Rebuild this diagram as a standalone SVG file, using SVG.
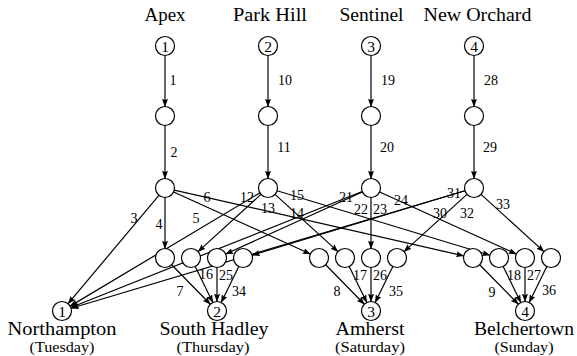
<svg xmlns="http://www.w3.org/2000/svg" width="577" height="356" viewBox="0 0 577 356" font-family="'Liberation Serif', 'DejaVu Serif', serif">
  <defs>
    <marker id="arr" viewBox="0 0 8 6" refX="7.6" refY="3" markerWidth="8" markerHeight="6" markerUnits="userSpaceOnUse" orient="auto">
      <path d="M0,0 L8,3 L0,6 L1.2,3 z" fill="#000"/>
    </marker>
  </defs>
  <style>
    circle { fill: #fff; stroke: #000; stroke-width: 1.2; }
    line { stroke: #000; stroke-width: 1.2; marker-end: url(#arr); }
    text { font-family: 'Liberation Serif', 'DejaVu Serif', serif; fill: #000; text-anchor: middle; }
    .town { font-size: 18.4px; }
    .day { font-size: 14px; }
    .num { font-size: 15.5px; }
    .lbl { font-size: 14px; }
  </style>
  <rect width="577" height="356" fill="#fff"/>

  <!-- connectors -->
  <g id="connectors">
    <!-- source chains -->
    <g id="e1"><line x1="165" y1="55.5" x2="165" y2="106.5"/><text class="lbl" x="173" y="85">1</text></g>
    <g id="e10"><line x1="268" y1="55.5" x2="268" y2="106.5"/><text class="lbl" x="285" y="85">10</text></g>
    <g id="e19"><line x1="371" y1="55.5" x2="371" y2="106.5"/><text class="lbl" x="388" y="85">19</text></g>
    <g id="e28"><line x1="474" y1="55.5" x2="474" y2="106.5"/><text class="lbl" x="491" y="85">28</text></g>
    <g id="e2"><line x1="165" y1="125.5" x2="165" y2="178.5"/><text class="lbl" x="174" y="157">2</text></g>
    <g id="e11"><line x1="268" y1="125.5" x2="268" y2="178.5"/><text class="lbl" x="284" y="152">11</text></g>
    <g id="e20"><line x1="371" y1="125.5" x2="371" y2="178.5"/><text class="lbl" x="387" y="152">20</text></g>
    <g id="e29"><line x1="474" y1="125.5" x2="474" y2="178.5"/><text class="lbl" x="490" y="152">29</text></g>

    <!-- Apex branches -->
    <g id="e3"><line x1="158.9" y1="195.3" x2="68.1" y2="303.7"/><text class="lbl" x="134" y="223">3</text></g>
    <g id="e4"><line x1="165" y1="197.5" x2="165" y2="248.5"/><text class="lbl" x="159" y="229">4</text></g>
    <g id="e5"><line x1="173.65" y1="191.93" x2="310.35" y2="254.07"/><text class="lbl" x="196" y="223">5</text></g>
    <g id="e6"><line x1="174.26" y1="190.11" x2="463.74" y2="255.89"/><text class="lbl" x="207" y="202">6</text></g>

    <!-- Park Hill branches -->
    <g id="e12"><line x1="259.84" y1="192.87" x2="70.16" y2="306.13"/><text class="lbl" x="247" y="202">12</text></g>
    <g id="e13"><line x1="260.97" y1="194.39" x2="198.03" y2="251.61"/><text class="lbl" x="268" y="213">13</text></g>
    <g id="e14"><line x1="275.03" y1="194.39" x2="337.97" y2="251.61"/><text class="lbl" x="297" y="218">14</text></g>
    <g id="e15"><line x1="277.09" y1="190.76" x2="489.91" y2="255.24"/><text class="lbl" x="297" y="200">15</text></g>

    <!-- Sentinel branches -->
    <g id="e21"><line x1="362.17" y1="191.51" x2="70.83" y2="307.49"/><text class="lbl" x="346" y="202">21</text></g>
    <g id="e22"><line x1="362.35" y1="191.93" x2="225.65" y2="254.07"/><text class="lbl" x="361" y="214">22</text></g>
    <g id="e23"><line x1="371" y1="197.5" x2="371" y2="248.5"/><text class="lbl" x="380" y="214">23</text></g>
    <g id="e24"><line x1="379.65" y1="191.93" x2="516.35" y2="254.07"/><text class="lbl" x="401" y="205">24</text></g>

    <!-- New Orchard branches -->
    <g id="e30"><line x1="464.90" y1="190.72" x2="71.10" y2="308.28"/><text class="lbl" x="440" y="218">30</text></g>
    <g id="e31"><line x1="464.91" y1="190.76" x2="252.09" y2="255.24"/><text class="lbl" x="454" y="198">31</text></g>
    <g id="e32"><line x1="466.97" y1="194.39" x2="404.03" y2="251.61"/><text class="lbl" x="467" y="218">32</text></g>
    <g id="e33"><line x1="481.03" y1="194.39" x2="543.97" y2="251.61"/><text class="lbl" x="503" y="209">33</text></g>

    <!-- into South Hadley -->
    <g id="e7"><line x1="171.65" y1="264.78" x2="210.35" y2="304.22"/><text class="lbl" x="180" y="296">7</text></g>
    <g id="e16"><line x1="195.18" y1="266.53" x2="212.82" y2="302.47"/><text class="lbl" x="206" y="279">16</text></g>
    <g id="e25"><line x1="217" y1="267.5" x2="217" y2="301.5"/><text class="lbl" x="226" y="280">25</text></g>
    <g id="e34"><line x1="238.82" y1="266.53" x2="221.18" y2="302.47"/><text class="lbl" x="239" y="296">34</text></g>

    <!-- into Amherst -->
    <g id="e8"><line x1="325.65" y1="264.78" x2="364.35" y2="304.22"/><text class="lbl" x="337" y="296">8</text></g>
    <g id="e17"><line x1="349.18" y1="266.53" x2="366.82" y2="302.47"/><text class="lbl" x="360" y="280">17</text></g>
    <g id="e26"><line x1="371" y1="267.5" x2="371" y2="301.5"/><text class="lbl" x="380" y="280">26</text></g>
    <g id="e35"><line x1="392.82" y1="266.53" x2="375.18" y2="302.47"/><text class="lbl" x="396" y="296">35</text></g>

    <!-- into Belchertown -->
    <g id="e9"><line x1="479.65" y1="264.78" x2="518.35" y2="304.22"/><text class="lbl" x="492" y="297">9</text></g>
    <g id="e18"><line x1="503.18" y1="266.53" x2="520.82" y2="302.47"/><text class="lbl" x="514" y="280">18</text></g>
    <g id="e27"><line x1="525" y1="267.5" x2="525" y2="301.5"/><text class="lbl" x="534" y="280">27</text></g>
    <g id="e36"><line x1="546.82" y1="266.53" x2="529.18" y2="302.47"/><text class="lbl" x="549" y="295">36</text></g>
  </g>

  <!-- sources -->
  <g id="src-apex">
    <text class="town" x="165" y="21" textLength="41" lengthAdjust="spacingAndGlyphs">Apex</text>
    <circle cx="165" cy="46" r="9.5"/><text class="num" x="165" y="51.5">1</text>
  </g>
  <g id="src-parkhill">
    <text class="town" x="270" y="21" textLength="74" lengthAdjust="spacingAndGlyphs">Park Hill</text>
    <circle cx="268" cy="46" r="9.5"/><text class="num" x="268" y="51.5">2</text>
  </g>
  <g id="src-sentinel">
    <text class="town" x="371.5" y="21" textLength="64" lengthAdjust="spacingAndGlyphs">Sentinel</text>
    <circle cx="371" cy="46" r="9.5"/><text class="num" x="371" y="51.5">3</text>
  </g>
  <g id="src-neworchard">
    <text class="town" x="477.5" y="21" textLength="108" lengthAdjust="spacingAndGlyphs">New Orchard</text>
    <circle cx="474" cy="46" r="9.5"/><text class="num" x="474" y="51.5">4</text>
  </g>

  <!-- intermediate chain nodes -->
  <g id="a2"><circle cx="165" cy="116" r="9.5"/></g>
  <g id="p2"><circle cx="268" cy="116" r="9.5"/></g>
  <g id="s2"><circle cx="371" cy="116" r="9.5"/></g>
  <g id="n2"><circle cx="474" cy="116" r="9.5"/></g>
  <g id="a3"><circle cx="165" cy="188" r="9.5"/></g>
  <g id="p3"><circle cx="268" cy="188" r="9.5"/></g>
  <g id="s3"><circle cx="371" cy="188" r="9.5"/></g>
  <g id="n3"><circle cx="474" cy="188" r="9.5"/></g>

  <!-- day nodes: South Hadley -->
  <g id="d2a"><circle cx="165" cy="258" r="9.5"/></g>
  <g id="d2p"><circle cx="191" cy="258" r="9.5"/></g>
  <g id="d2s"><circle cx="217" cy="258" r="9.5"/></g>
  <g id="d2n"><circle cx="243" cy="258" r="9.5"/></g>
  <!-- day nodes: Amherst -->
  <g id="d3a"><circle cx="319" cy="258" r="9.5"/></g>
  <g id="d3p"><circle cx="345" cy="258" r="9.5"/></g>
  <g id="d3s"><circle cx="371" cy="258" r="9.5"/></g>
  <g id="d3n"><circle cx="397" cy="258" r="9.5"/></g>
  <!-- day nodes: Belchertown -->
  <g id="d4a"><circle cx="473" cy="258" r="9.5"/></g>
  <g id="d4p"><circle cx="499" cy="258" r="9.5"/></g>
  <g id="d4s"><circle cx="525" cy="258" r="9.5"/></g>
  <g id="d4n"><circle cx="551" cy="258" r="9.5"/></g>

  <!-- sinks -->
  <g id="sink-northampton">
    <circle cx="62" cy="311" r="9.5"/><text class="num" x="62" y="316.5">1</text>
    <text class="town" x="62" y="335" textLength="109" lengthAdjust="spacingAndGlyphs">Northampton</text>
    <text class="day" x="62" y="352" textLength="65" lengthAdjust="spacingAndGlyphs">(Tuesday)</text>
  </g>
  <g id="sink-southhadley">
    <circle cx="217" cy="311" r="9.5"/><text class="num" x="217" y="316.5">2</text>
    <text class="town" x="214" y="335" textLength="109" lengthAdjust="spacingAndGlyphs">South Hadley</text>
    <text class="day" x="213" y="352" textLength="73" lengthAdjust="spacingAndGlyphs">(Thursday)</text>
  </g>
  <g id="sink-amherst">
    <circle cx="371" cy="311" r="9.5"/><text class="num" x="371" y="316.5">3</text>
    <text class="town" x="370" y="335" textLength="69" lengthAdjust="spacingAndGlyphs">Amherst</text>
    <text class="day" x="370" y="352" textLength="70" lengthAdjust="spacingAndGlyphs">(Saturday)</text>
  </g>
  <g id="sink-belchertown">
    <circle cx="525" cy="311" r="9.5"/><text class="num" x="525" y="316.5">4</text>
    <text class="town" x="524" y="335" textLength="100" lengthAdjust="spacingAndGlyphs">Belchertown</text>
    <text class="day" x="524" y="352" textLength="59" lengthAdjust="spacingAndGlyphs">(Sunday)</text>
  </g>
</svg>
